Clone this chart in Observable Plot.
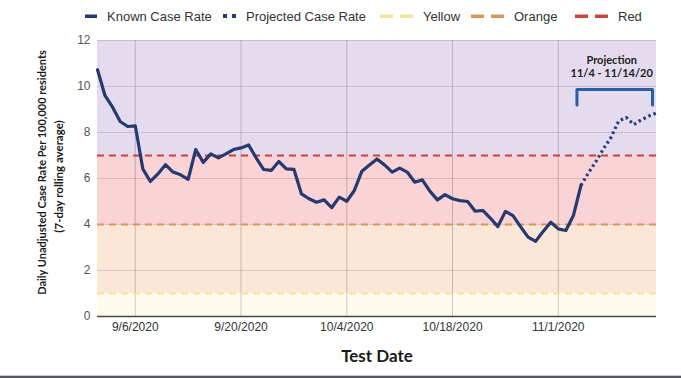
<!DOCTYPE html>
<html>
<head>
<meta charset="utf-8">
<script src="https://cdn.jsdelivr.net/npm/d3@7"></script>
<script src="https://cdn.jsdelivr.net/npm/@observablehq/plot@0.6"></script>
<style>
  html, body { margin: 0; padding: 0; background: #fff; }
  #wrap { position: relative; width: 681px; height: 378px; overflow: hidden; }
  #legend { position: absolute; left: 0; top: 0; width: 681px; height: 30px;
    font-family: "Liberation Sans", Arial, sans-serif; font-size: 13px; color: #333; }
  .item { position: absolute; top: 8px; height: 16px; display: flex; align-items: center; white-space: nowrap; }
  .item svg { margin-right: 10px; }
  #chart { position: absolute; left: 0; top: 30px; }
  #edge { position: absolute; left: 0; top: 375px; width: 681px; height: 1px; background: #c9c6de; }
  #edge2 { position: absolute; left: 0; top: 376px; width: 681px; height: 2px; background: #545866; }
</style>
</head>
<body>
<div id="wrap">
  <div id="legend"></div>
  <div id="chart"></div>
  <div id="edge"></div>
  <div id="edge2"></div>
</div>
<script>
// ---------- data ----------
const firstDate = "2020-09-01";
const knownRate = [
  10.73, 9.6, 9.1, 8.48, 8.26, 8.29, 6.42, 5.87, 6.2, 6.6,
  6.28, 6.16, 5.96, 7.26, 6.7, 7.07, 6.9, 7.07, 7.26, 7.33,
  7.46, 6.9, 6.39, 6.35, 6.74, 6.42, 6.4, 5.33, 5.12, 4.97,
  5.07, 4.73, 5.19, 5.01, 5.48, 6.32, 6.59, 6.85, 6.59, 6.28,
  6.45, 6.28, 5.84, 5.94, 5.45, 5.07, 5.3, 5.12, 5.04, 5.0,
  4.58, 4.61, 4.28, 3.91, 4.57, 4.39, 3.91, 3.45, 3.27, 3.7,
  4.1, 3.81, 3.74, 4.39, 5.7
];
const projectionStart = "2020-11-04";
const projectionEnd = "2020-11-14";
const projectedRate = [5.7, 6.25, 6.75, 7.3, 7.8, 8.5, 8.65, 8.35, 8.55, 8.72, 8.85];
const projectionTitle = "Projection";
const projectionRange = "11/4 - 11/14/20";

const zoneNames = ["Yellow", "Orange", "Red"];
const zoneThresholds = [1, 4, 7];
const bandLows = [0, 1, 4, 7];
const bandHighs = [1, 4, 7, 12];

const yTicks = [0, 2, 4, 6, 8, 10, 12];
const xTickLabels = ["9/6/2020", "9/20/2020", "10/4/2020", "10/18/2020", "11/1/2020"];

const yTitle1 = "Daily Unadjusted Case Rate Per 100,000 residents";
const yTitle2 = "(7-day rolling average)";
const xTitle = "Test Date";
const legendLabels = ["Known Case Rate", "Projected Case Rate", "Yellow", "Orange", "Red"];

// ---------- derived ----------
const DAY = 864e5;
const t0 = new Date(firstDate + "T00:00:00Z");
const known = knownRate.map((v, i) => ({date: new Date(t0.getTime() + i * DAY), v}));
const p0 = new Date(projectionStart + "T00:00:00Z");
const p1 = new Date(projectionEnd + "T00:00:00Z");
const projected = projectedRate.map((v, i) => ({date: new Date(p0.getTime() + i * DAY), v}));
const parseLabel = s => { const [m, d, y] = s.split("/").map(Number); return new Date(Date.UTC(y, m - 1, d)); };
const xTicks = xTickLabels.map(parseLabel);
const labelOf = new Map(xTickLabels.map(s => [parseLabel(s).getTime(), s]));
const xDomain = [t0, p1];

const bandFills = ["#fffbed", "#fbe6d7", "#f9d3d5", "#e5dbee"];
const zoneColors = ["#f4e39a", "#d9955c", "#c9443e"];
const bands = bandLows.map((lo, i) => ({lo, hi: bandHighs[i], fill: bandFills[i]}));
const zones = zoneThresholds.map((y, i) => ({y, name: zoneNames[i], color: zoneColors[i]}));
const bracket = [
  {date: p0, v: 9.2}, {date: p0, v: 9.87}, {date: p1, v: 9.87}, {date: p1, v: 9.2}
];
const midProj = new Date((p0.getTime() + p1.getTime()) / 2);

const lineColor = "#263a70";
const titleFont = "Lato, 'Open Sans', sans-serif";

const chart = Plot.plot({
  width: 681,
  height: 348,
  marginTop: 10,
  marginBottom: 62,
  marginLeft: 97,
  marginRight: 25,
  x: {type: "utc", domain: xDomain},
  y: {domain: [0, 12]},
  style: {fontFamily: "'Liberation Sans', Arial, sans-serif", fontSize: "12px", background: "transparent", color: "#555", overflow: "visible"},
  marks: [
    Plot.rect(bands, {x1: () => xDomain[0], x2: () => xDomain[1], y1: "lo", y2: "hi", fill: d => d.fill}),
    Plot.gridY(yTicks.filter(t => t > 0), {stroke: "#000", strokeOpacity: 0.13, strokeWidth: 1}),
    Plot.gridX(xTicks, {stroke: "#000", strokeOpacity: 0.2, strokeWidth: 1}),
    Plot.ruleY(zones, {y: "y", stroke: d => d.color, strokeWidth: 2, strokeDasharray: "7,5"}),
    Plot.ruleY([0], {stroke: "#444", strokeWidth: 1.5}),
    Plot.axisY(yTicks, {tickSize: 0, tickPadding: 7, label: null, fill: "#555", fontSize: 12}),
    Plot.axisX(xTicks, {tickSize: 0, tickPadding: 6, label: null, fill: "#333", fontSize: 12,
      tickFormat: d => labelOf.get(d.getTime())}),
    Plot.line(projected, {x: "date", y: "v", stroke: "#213f7c", strokeWidth: 3.2, strokeDasharray: "2.5,3", strokeLinecap: "butt"}),
    Plot.line(known, {x: "date", y: "v", stroke: lineColor, strokeWidth: 3.2, strokeLinejoin: "round"}),
    Plot.line(bracket, {x: "date", y: "v", stroke: "#2a5fa3", strokeWidth: 3, dx: -4}),
    Plot.text([projectionTitle], {x: midProj, y: 11.13, text: d => d, fontWeight: "bold", fontSize: 11,
      fill: "#222", dx: -7, fontFamily: titleFont}),
    Plot.text([projectionRange], {x: midProj, y: 10.57, text: d => d, fontWeight: "bold", fontSize: 11,
      fill: "#222", dx: -7, fontFamily: titleFont}),
    Plot.text([yTitle1], {frameAnchor: "left", textAnchor: "middle", text: d => d, rotate: -90, dx: -55, dy: -6,
      fontWeight: "bold", fontSize: 11, fill: "#1a1a1a", fontFamily: titleFont}),
    Plot.text([yTitle2], {frameAnchor: "left", textAnchor: "middle", text: d => d, rotate: -90, dx: -38, dy: -2,
      fontWeight: "bold", fontSize: 11.5, fill: "#1a1a1a", fontFamily: titleFont}),
    Plot.text([xTitle], {frameAnchor: "bottom", text: d => d, dy: 45, fontWeight: "bold", fontSize: 17,
      fill: "#1a1a1a", fontFamily: titleFont})
  ]
});
document.getElementById("chart").appendChild(chart);

// ---------- legend ----------
const legend = document.getElementById("legend");
function swatch(kind, color) {
  const ns = "http://www.w3.org/2000/svg";
  const s = document.createElementNS(ns, "svg");
  const w = kind === "solid" ? 12 : kind === "dot" ? 13 : 33;
  s.setAttribute("width", w); s.setAttribute("height", 6);
  const r = (x, wd) => { const e = document.createElementNS(ns, "rect");
    e.setAttribute("x", x); e.setAttribute("y", kind === "dot" ? 1 : 1.5);
    e.setAttribute("width", wd); e.setAttribute("height", kind === "dot" ? 4 : 3.5);
    e.setAttribute("fill", color); s.appendChild(e); };
  if (kind === "solid") r(0, 12);
  else if (kind === "dot") { r(0, 4); r(9, 4); }
  else { r(0, 13); r(20, 13); }
  return s;
}
const legendItems = [
  {kind: "solid", color: lineColor, left: 85},
  {kind: "dot", color: "#213f7c", left: 223},
  {kind: "dash", color: zoneColors[0], left: 380},
  {kind: "dash", color: zoneColors[1], left: 471},
  {kind: "dash", color: zoneColors[2], left: 575}
];
legendItems.forEach((it, i) => {
  const div = document.createElement("div");
  div.className = "item";
  div.style.left = it.left + "px";
  div.appendChild(swatch(it.kind, it.color));
  const sp = document.createElement("span");
  sp.textContent = legendLabels[i];
  div.appendChild(sp);
  legend.appendChild(div);
});
</script>
</body>
</html>
